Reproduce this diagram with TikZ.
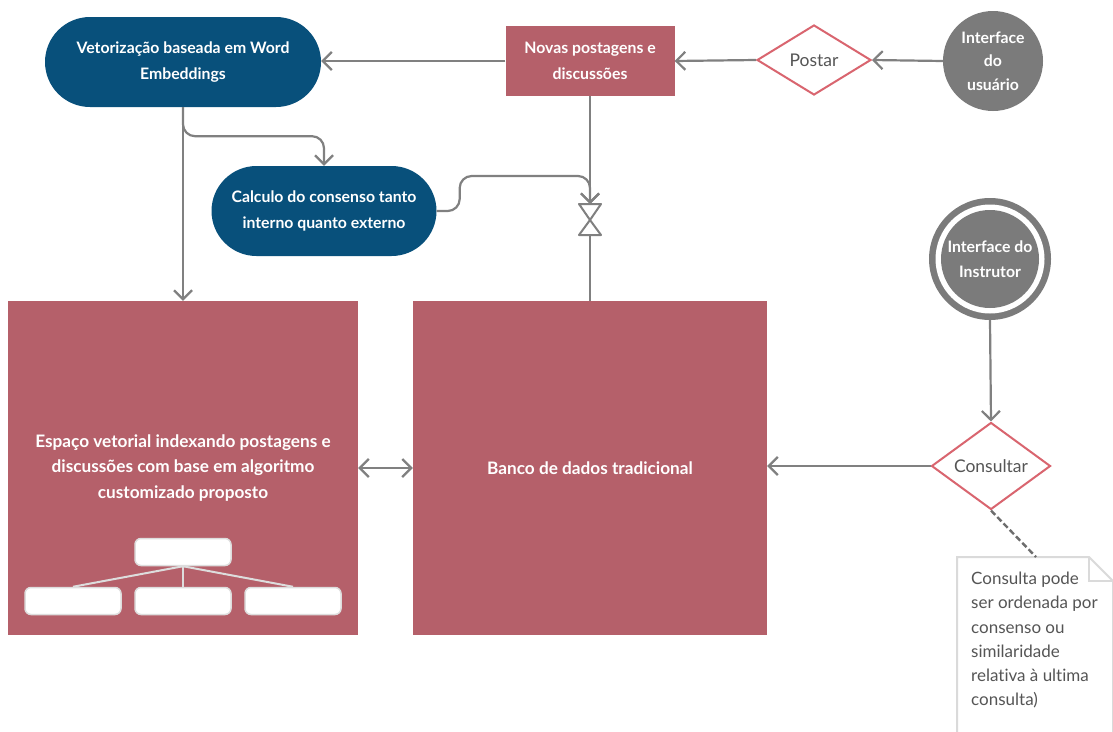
\documentclass[tikz,border=0pt]{standalone}
\usepackage{fontspec}
\setmainfont{Lato}[Ligatures=NoCommon]
\usetikzlibrary{arrows.meta,shapes.geometric,calc}
\definecolor{pblue}{HTML}{08507B}
\definecolor{pred}{HTML}{B5606A}
\definecolor{dborder}{HTML}{D9656F}
\definecolor{cgray}{HTML}{7B7B7B}
\definecolor{lgray}{HTML}{808080}
\definecolor{tgray}{HTML}{555555}
\definecolor{notegray}{HTML}{DADADA}
\definecolor{treegray}{HTML}{DDDDDD}
\tikzset{
  wtext/.style={text=white, font=\fontsize{15.8}{26}\selectfont\bfseries, align=center, inner sep=0pt},
  pill/.style={wtext, fill=pblue, rounded corners=45pt, minimum height=90pt},
  rbox/.style={wtext, fill=pred},
  bigtext/.style={font=\fontsize{17.2}{25.5}\selectfont\bfseries},
  dia/.style={diamond, draw=dborder, line width=2pt, fill=white, inner sep=0pt, text=tgray, font=\fontsize{17.5}{20}\selectfont},
  gcirc/.style={circle, fill=cgray, wtext},
  conn/.style={draw=lgray, line width=2.2pt},
  arr/.style={conn, -{Straight Barb[length=9pt,width=18pt]}},
  darr/.style={conn, {Straight Barb[length=9pt,width=18pt]}-{Straight Barb[length=9pt,width=18pt]}},
  tbox/.style={draw=treegray, line width=1.5pt, fill=white, rounded corners=6pt, minimum width=96pt, minimum height=27pt, inner sep=0pt},
  tline/.style={draw=treegray, line width=2pt},
}
\begin{document}
\begin{tikzpicture}[x=1pt,y=-1pt]
\useasboundingbox (0,0) rectangle (1113,731);
\fill[white] (0,0) rectangle (1113,731);

% main nodes
\node[pill, minimum width=276pt] (vet) at (183,62) {Vetorização baseada em Word\\Embeddings};
\node[pill, minimum width=225pt] (calc) at (324,211) {Calculo do consenso tanto\\interno quanto externo};
\node[rbox, minimum width=169pt, minimum height=70pt] (novas) at (590,61) {Novas postagens e\\discussões};
\node[dia, minimum width=114pt, minimum height=70pt] (postar) at (814,60) {Postar};
\node[gcirc, minimum size=100pt, font=\fontsize{15.8}{23.5}\selectfont\bfseries] (usr) at (993,61) {Interface\\do\\usuário};

\node[rbox, minimum width=350pt, minimum height=334pt] (esp) at (183,468) {};
\node[wtext, bigtext] (esptext) at (183,468) {Espaço vetorial indexando postagens e\\discussões com base em algoritmo\\customizado proposto};
\node[rbox, bigtext, minimum width=354pt, minimum height=334pt] (banco) at (590,468) {Banco de dados tradicional};

% instructor interface: double ring
\node[circle, fill=cgray, minimum size=122pt, inner sep=0pt] (instr) at (990,259) {};
\node[circle, fill=white, minimum size=109pt, inner sep=0pt] (instrgap) at (990,259) {};
\node[gcirc, minimum size=98pt, font=\fontsize{15.8}{25}\selectfont\bfseries] (instrin) at (990,259) {Interface do\\Instrutor};

\node[dia, minimum width=119pt, minimum height=79pt] (cons) at (991,466) {Consultar};

% small tree inside the vector space
\node[tbox] (t0) at (183,552) {};
\node[tbox] (t1) at (73,601) {};
\node[tbox] (t2) at (183,601) {};
\node[tbox] (t3) at (293,601) {};
\draw[tline] (t0.south) -- (t1.north);
\draw[tline] (t0.south) -- (t2.north);
\draw[tline] (t0.south) -- (t3.north);

% valve
\coordinate (vtop) at (590,204);
\coordinate (vmid) at (590,220);
\coordinate (vbot) at (590,235);
\draw[draw=lgray, line width=2pt, fill=white, line join=round]
  (579,204) -- (601,204) -- (vmid) -- cycle
  (vmid) -- (579,235) -- (601,235) -- cycle;

% connectors
\draw[arr] (novas.west) -- (vet.east |- novas.west);
\draw[arr] (postar.west) -- (novas.east);
\draw[arr] (usr.west) -- (postar.east);
\draw[arr] (vet.south) -- (esp.north);
\draw[arr, rounded corners=12pt] (vet.south) -- ++(0,29) -| (calc.north);
\draw[arr, rounded corners=12pt] (calc.east) -- ++(23,0) -- ++(0,-35) -| (vtop);
\draw[arr] (novas.south) -- (vtop);
\draw[conn] (vbot) -- (banco.north);
\draw[darr] (esp.east) -- (banco.west);
\draw[arr] (cons.west) -- (cons.west -| banco.east);
\draw[arr] (instr.south) -- (cons.north);

% note
\coordinate (notetop) at (1036,557);
\draw[draw=notegray, line width=2pt, fill=white] (957,760) -- (957,557) -- (1089,557) -- (1113,581) -- (1113,760);
\draw[draw=notegray, line width=1.5pt] (1089,557) -- (1089,581) -- (1113,581);
\node[anchor=north west, align=left, inner sep=0pt, text=tgray, font=\fontsize{17}{24.2}\selectfont] (note) at (971,572)
  {Consulta pode\\ser ordenada por\\consenso ou\\similaridade\\relativa à ultima\\consulta)};
\draw[draw=lgray!85!black, line width=2.4pt, dash pattern=on 6pt off 3pt] (cons.south) -- (notetop);
\end{tikzpicture}
\end{document}
